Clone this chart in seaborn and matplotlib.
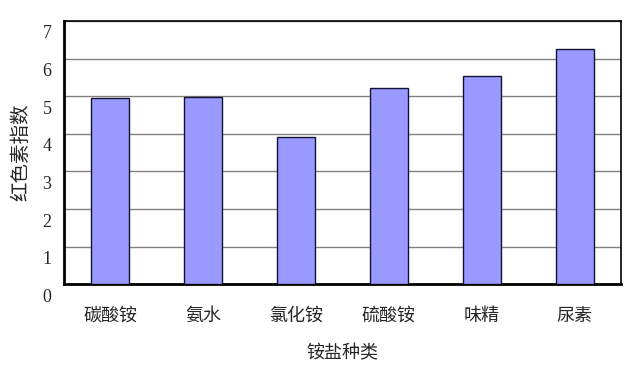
import matplotlib
matplotlib.use("Agg")
import matplotlib.pyplot as plt
import matplotlib.transforms as mtransforms
import seaborn as sns
import pandas as pd

categories = ["碳酸铵", "氨水", "氯化铵", "硫酸铵", "味精", "尿素"]
values = [4.95, 4.97, 3.91, 5.21, 5.54, 6.25]
yticks = [0, 1, 2, 3, 4, 5, 6, 7]

sns.set_theme(style="white")
plt.rcParams['font.family'] = ['Noto Sans CJK SC', 'DejaVu Sans']

df = pd.DataFrame({"cat": categories, "val": values})

fig = plt.figure(figsize=(6.37, 3.68), dpi=100)
ax = fig.add_axes([0.1005, 0.2274, 0.8745, 0.7156])
sns.barplot(data=df, x="cat", y="val", color="#9999FF", saturation=1,
            width=0.41, edgecolor="#111133", linewidth=1.0, ax=ax, zorder=3)

ax.set_ylim(0, 7)
ax.set_xlim(-0.5, len(categories) - 0.5)
ax.set_yticks(yticks)
ax.set_yticklabels([str(t) for t in yticks], family="Liberation Serif", fontsize=13)
ax.yaxis.grid(True, color="#808080", linewidth=1.0, zorder=0)
ax.set_axisbelow(True)
ax.tick_params(axis="y", length=0, pad=9)
ax.tick_params(axis="x", length=0, pad=16, labelsize=13)
offset = mtransforms.ScaledTranslation(0, -11 / 100, fig.dpi_scale_trans)
for lab in ax.get_yticklabels():
    lab.set_transform(lab.get_transform() + offset)

# minor ticks at category boundaries, pointing inward
ax.set_xticks([i + 0.5 for i in range(len(categories) - 1)], minor=True)
ax.tick_params(axis="x", which="minor", direction="in", length=4, color="black", width=1)

for s in ["left", "bottom"]:
    ax.spines[s].set_color("black")
    ax.spines[s].set_linewidth(2.0)
for s in ["top", "right"]:
    ax.spines[s].set_color("black")
    ax.spines[s].set_linewidth(1.2)
    ax.spines[s].set_visible(True)

ax.set_xlabel("铵盐种类", fontsize=13, labelpad=14)
ax.set_ylabel("红色素指数", fontsize=14, labelpad=8)

fig.savefig("out.png", dpi=100)
